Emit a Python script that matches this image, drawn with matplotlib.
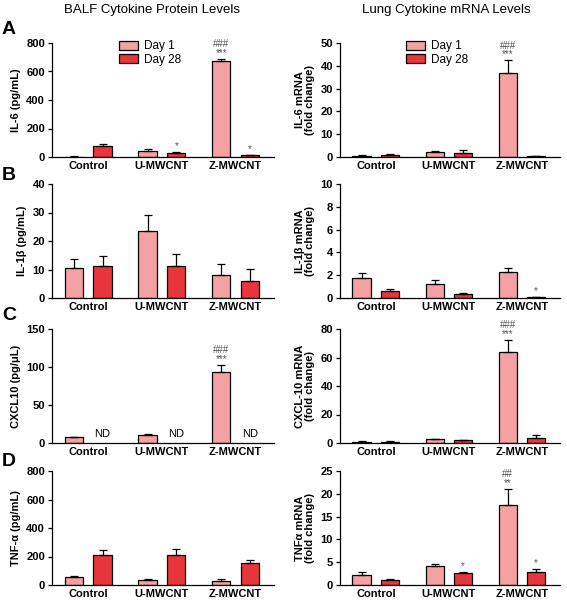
import numpy as np
import matplotlib
matplotlib.use("Agg")
import matplotlib.pyplot as plt
from matplotlib.patches import Patch

plt.rcParams["font.family"] = ["Liberation Sans", "DejaVu Sans"]

groups = ["Control", "U-MWCNT", "Z-MWCNT"]
series = ["Day 1", "Day 28"]

# BALF protein (left column)
il6_d1 = [3, 44, 671]
il6_d1_err = [2, 10, 20]
il6_d28 = [75, 28, 11]
il6_d28_err = [16, 9, 4]

il1b_d1 = [10.6, 23.4, 7.9]
il1b_d1_err = [3.0, 5.8, 4.0]
il1b_d28 = [11.2, 11.4, 6.0]
il1b_d28_err = [3.7, 4.2, 4.1]

cxcl10_d1 = [7.5, 10.5, 93]
cxcl10_d1_err = [0.5, 1.0, 10]

tnf_d1 = [54, 35, 31]
tnf_d1_err = [7, 10, 11]
tnf_d28 = [209, 214, 155]
tnf_d28_err = [36, 38, 21]

# Lung mRNA (right column)
il6m_d1 = [0.6, 2.3, 36.7]
il6m_d1_err = [0.3, 0.5, 5.8]
il6m_d28 = [1.0, 1.9, 0.3]
il6m_d28_err = [0.2, 1.0, 0.1]

il1bm_d1 = [1.76, 1.26, 2.32]
il1bm_d1_err = [0.45, 0.3, 0.33]
il1bm_d28 = [0.65, 0.32, 0.09]
il1bm_d28_err = [0.15, 0.12, 0.03]

cxclm_d1 = [0.9, 2.6, 64]
cxclm_d1_err = [0.2, 0.2, 8.5]
cxclm_d28 = [0.9, 1.9, 3.5]
cxclm_d28_err = [0.2, 0.4, 2.3]

tnfm_d1 = [2.28, 4.1, 17.6]
tnfm_d1_err = [0.66, 0.46, 3.5]
tnfm_d28 = [1.03, 2.72, 2.94]
tnfm_d28_err = [0.22, 0.22, 0.6]

c_d1 = "#f4a1a5"
c_d28 = "#e8363d"
grey = "#555555"

fig = plt.figure(figsize=(5.67, 6.02), dpi=100)

left_x, left_w = 52 / 567, 222 / 567
right_x, right_w = 340 / 567, 220 / 567
row_bottoms = [1 - 157 / 602, 1 - 298 / 602, 1 - 443 / 602, 1 - 585 / 602]
row_h = 114 / 602

x = np.arange(len(groups))
bw = 0.25
off = 0.195


def bar_panel(ax, d1, d1e, d28, d28e, ymax, step, ylabel, marks=None, nd=False):
    ax.bar(x - off, d1, bw, color=c_d1, edgecolor="black", linewidth=0.9,
           yerr=[np.zeros(3), d1e], error_kw=dict(ecolor="black", elinewidth=0.9,
                                                  capsize=3, capthick=0.9))
    if d28 is not None:
        ax.bar(x + off, d28, bw, color=c_d28, edgecolor="black", linewidth=0.9,
               yerr=[np.zeros(3), d28e], error_kw=dict(ecolor="black", elinewidth=0.9,
                                                       capsize=3, capthick=0.9))
    if nd:
        for xi in x:
            ax.annotate("ND", (xi + off, 0), xytext=(0, 3), textcoords="offset points",
                        ha="center", va="bottom", fontsize=8)
    # significance marks: (group, series, text)
    for g, s, txt in (marks or []):
        if s == 0:
            top = d1[g] + d1e[g]
            xi = g - off
        else:
            top = d28[g] + d28e[g]
            xi = g + off
        ax.annotate(txt, (xi, top), xytext=(0, 0.5), textcoords="offset points",
                    ha="center", va="bottom", fontsize=7, color=grey,
                    linespacing=0.85)
    ax.set_xlim(-0.49, 2.52)
    ax.set_ylim(0, ymax)
    ax.set_yticks(np.arange(0, ymax + step / 2, step))
    ax.set_xticks(x)
    ax.set_xticklabels(groups, fontweight="bold", fontsize=8)
    ax.tick_params(axis="x", length=0, pad=3)
    ax.tick_params(axis="y", length=3, width=0.9, labelsize=8, pad=2)
    for lab in ax.get_yticklabels():
        lab.set_fontweight("bold")
    ax.spines["top"].set_visible(False)
    ax.spines["right"].set_visible(False)
    ax.spines["left"].set_linewidth(0.9)
    ax.spines["bottom"].set_linewidth(0.9)
    ax.set_ylabel(ylabel, fontweight="bold", fontsize=8, labelpad=4, linespacing=1.0)


axes = []
for r in range(4):
    axl = fig.add_axes([left_x, row_bottoms[r], left_w, row_h])
    axr = fig.add_axes([right_x, row_bottoms[r], right_w, row_h])
    axes.append((axl, axr))

bar_panel(axes[0][0], il6_d1, il6_d1_err, il6_d28, il6_d28_err, 800, 200,
          "IL-6 (pg/mL)", marks=[(1, 1, "*"), (2, 0, "###\n***"), (2, 1, "*")])
bar_panel(axes[0][1], il6m_d1, il6m_d1_err, il6m_d28, il6m_d28_err, 50, 10,
          "IL-6 mRNA\n(fold change)", marks=[(2, 0, "###\n***")])
bar_panel(axes[1][0], il1b_d1, il1b_d1_err, il1b_d28, il1b_d28_err, 40, 10,
          "IL-1β (pg/mL)")
bar_panel(axes[1][1], il1bm_d1, il1bm_d1_err, il1bm_d28, il1bm_d28_err, 10, 2,
          "IL-1β mRNA\n(fold change)", marks=[(2, 1, "*")])
bar_panel(axes[2][0], cxcl10_d1, cxcl10_d1_err, None, None, 150, 50,
          "CXCL10 (pg/μL)", marks=[(2, 0, "###\n***")], nd=True)
bar_panel(axes[2][1], cxclm_d1, cxclm_d1_err, cxclm_d28, cxclm_d28_err, 80, 20,
          "CXCL-10 mRNA\n(fold change)", marks=[(2, 0, "###\n***")])
bar_panel(axes[3][0], tnf_d1, tnf_d1_err, tnf_d28, tnf_d28_err, 800, 200,
          "TNF-α (pg/mL)")
bar_panel(axes[3][1], tnfm_d1, tnfm_d1_err, tnfm_d28, tnfm_d28_err, 25, 5,
          "TNFα mRNA\n(fold change)",
          marks=[(1, 1, "*"), (2, 0, "##\n**"), (2, 1, "*")])

handles = [Patch(facecolor=c_d1, edgecolor="black", linewidth=0.9),
           Patch(facecolor=c_d28, edgecolor="black", linewidth=0.9)]
for ax in axes[0]:
    ax.legend(handles, series, loc="upper left", bbox_to_anchor=(0.28, 1.065),
              frameon=False, fontsize=8.5, handlelength=1.6, handleheight=0.8,
              handletextpad=0.5, labelspacing=0.15, borderaxespad=0)

fig.text(152 / 567, 1 - 10 / 602, "BALF Cytokine Protein Levels", ha="center",
         va="center", fontsize=9.5)
fig.text(446 / 567, 1 - 10 / 602, "Lung Cytokine mRNA Levels", ha="center",
         va="center", fontsize=9.5)

for letter, yy in zip("ABCD", [29, 176, 316, 461]):
    fig.text(2 / 567, 1 - yy / 602, letter, ha="left", va="center",
             fontsize=14, fontweight="bold")

fig.savefig("out.png", dpi=100)
